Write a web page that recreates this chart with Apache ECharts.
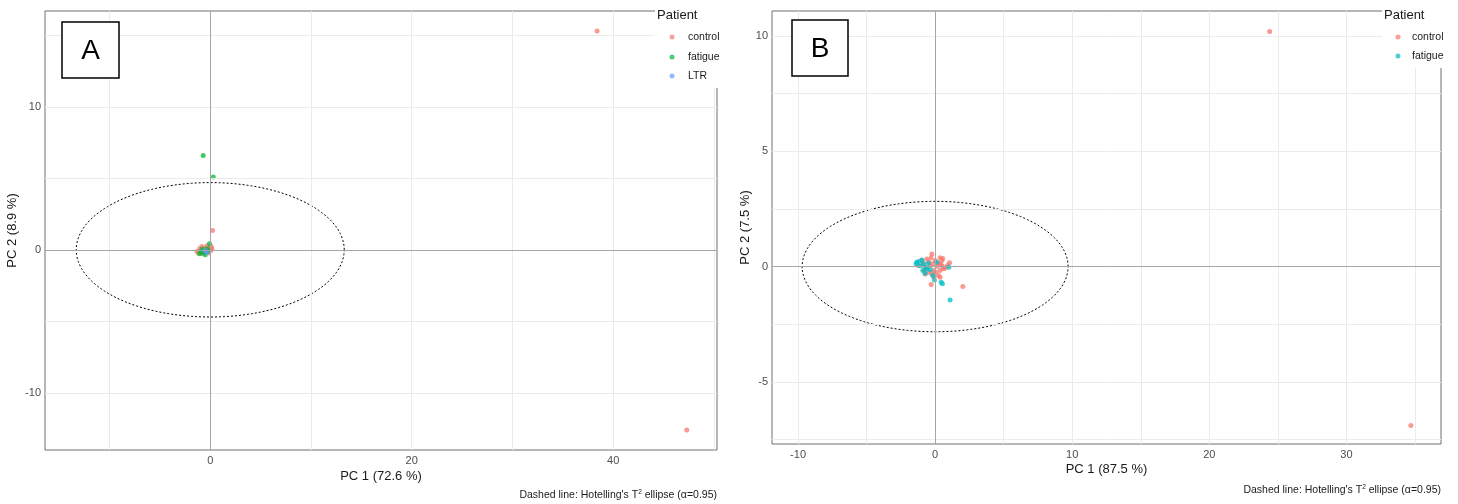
<!DOCTYPE html>
<html>
<head>
<meta charset="utf-8">
<script src="https://cdn.jsdelivr.net/npm/echarts@6/dist/echarts.min.js"></script>
<style>
  html, body { margin: 0; padding: 0; background: #fff; }
  #chart { width: 1458px; height: 504px; }
</style>
</head>
<body>
<div id="chart"></div>
<script>
// ---- Panel A: PCA scores, three patient groups ----
const controlA = [[38.4,15.3],[47.3,-12.6],[0.23,1.35],[-1.16,-0.23],[-0.99,-0.12],[-0.66,0.0],[-0.83,0.23],
  [-0.33,0.28],[-0.07,0.12],[0.17,0.05],[-0.4,-0.12],[-1.32,-0.12],[-0.17,-0.23],[0.1,0.23],[-0.55,0.1],
  [-0.9,-0.25],[-0.25,0.02],[0.05,-0.05],[-1.05,0.08],[-0.7,-0.2]];
const fatigueA = [[-0.7,6.6],[0.3,5.1],[-0.07,0.42],[-0.93,-0.12],[-0.66,-0.23],[-0.5,-0.35],[-1.06,-0.28],
  [-0.3,0.07],[-0.8,0.05],[-0.2,-0.1]];
const ltrA = [[-0.33,-0.19],[-0.5,-0.05]];

// ---- Panel B: PCA scores, two patient groups ----
const controlB = [[24.4,10.2],[34.7,-6.9],[-0.24,0.55],[0.36,0.38],[0.49,0.26],[1.05,0.17],[-0.61,0.33],
  [-0.85,0.12],[-0.36,0.04],[0.12,0.0],[0.49,0.04],[-0.12,-0.17],[0.36,-0.17],[-0.49,-0.25],[-0.24,-0.32],
  [0.24,-0.39],[-0.73,-0.32],[-0.29,-0.78],[2.02,-0.87],[-0.97,0.26],[0.61,-0.1],[0.0,0.26],[-1.22,0.04],
  [0.36,-0.46],[-0.61,-0.04],[0.2,0.15],[-0.45,0.2],[0.55,0.35],[-0.1,-0.45],[0.75,-0.05],[-0.3,0.38],
  [0.05,-0.25],[-0.8,-0.15],[0.4,0.1],[-0.15,0.12],[0.9,0.05]];
const fatigueB = [[-1.34,0.19],[-1.39,0.12],[-0.97,0.29],[-1.09,0.04],[-0.85,0.12],[-0.73,-0.03],[-0.9,-0.17],
  [-0.73,-0.29],[-0.36,-0.14],[-0.17,-0.39],[-0.05,-0.58],[0.44,-0.68],[0.53,-0.75],[1.0,-0.03],[1.09,-1.45],
  [0.12,0.19],[-0.49,0.14],[-1.2,0.22],[-0.6,-0.1]];

// Hotelling's T2 ellipse semi-axes (PC1, PC2) per panel
const ellipseA = { rx: 13.3, ry: 4.7 };
const ellipseB = { rx: 9.7, ry: 2.83 };

// Axis ranges, tick labels and grid lines
const xRangeA = [-16.4, 50.3], yRangeA = [-14.0, 16.7];
const xTicksA = [0, 20, 40], yTicksA = [-10, 0, 10];
const xGridA = [-10, 10, 20, 30, 40, 50], yGridA = [-10, -5, 5, 10, 15];
const xRangeB = [-11.9, 36.9], yRangeB = [-7.7, 11.09];
const xTicksB = [-10, 0, 10, 20, 30], yTicksB = [-5, 0, 5, 10];
const xGridB = [-10, -5, 5, 10, 15, 20, 25, 30, 35], yGridB = [-7.5, -5, -2.5, 2.5, 5, 7.5, 10];

const colControl = '#F8766D', colFatigue3 = '#00BA38', colLTR = '#619CFF', colFatigue2 = '#00BFC4';
const legendA = [['control', colControl], ['fatigue', colFatigue3], ['LTR', colLTR]];
const legendB = [['control', colControl], ['fatigue', colFatigue2]];

const FONT = '"Liberation Sans", Arial, sans-serif';

function ellipsePoints(e) {
  const pts = [];
  for (let i = 0; i <= 180; i++) {
    const t = (i / 180) * 2 * Math.PI;
    pts.push([e.rx * Math.cos(t), e.ry * Math.sin(t)]);
  }
  return pts;
}

function xAxisOf(gi, range, ticks, name, gap) {
  return {
    type: 'value', gridIndex: gi, min: range[0], max: range[1],
    name: name, nameLocation: 'middle', nameGap: gap, nameMoveOverlap: false,
    nameTextStyle: { color: '#1a1a1a', fontSize: 13, fontFamily: FONT },
    axisLine: { show: false },
    axisTick: { show: true, customValues: ticks, length: 3, lineStyle: { color: '#555' } },
    axisLabel: { customValues: ticks, color: '#4d4d4d', fontSize: 11, fontFamily: FONT, margin: 5 },
    splitLine: { show: false }
  };
}
function yAxisOf(gi, range, ticks, name, gap) {
  return {
    type: 'value', gridIndex: gi, min: range[0], max: range[1],
    name: name, nameLocation: 'middle', nameGap: gap, nameMoveOverlap: false,
    nameTextStyle: { color: '#1a1a1a', fontSize: 13, fontFamily: FONT },
    axisLine: { show: false },
    axisTick: { show: true, customValues: ticks, length: 3, lineStyle: { color: '#555' } },
    axisLabel: { customValues: ticks, color: '#4d4d4d', fontSize: 11, fontFamily: FONT, margin: 4 },
    splitLine: { show: false }
  };
}

function gridLines(gi, xs, ys) {
  const data = xs.map(v => ({ xAxis: v })).concat(ys.map(v => ({ yAxis: v })));
  return [
    { type: 'scatter', xAxisIndex: gi, yAxisIndex: gi, data: [], silent: true, z: 1,
      markLine: { silent: true, symbol: 'none', label: { show: false }, animation: false,
        lineStyle: { color: '#ebebeb', width: 1, type: 'solid' }, data: data } },
    { type: 'scatter', xAxisIndex: gi, yAxisIndex: gi, data: [], silent: true, z: 1,
      markLine: { silent: true, symbol: 'none', label: { show: false }, animation: false,
        lineStyle: { color: '#a6a6a6', width: 1, type: 'solid' },
        data: [{ xAxis: 0 }, { yAxis: 0 }] } }
  ];
}

function pts(gi, name, data, color) {
  return { type: 'scatter', name: name, xAxisIndex: gi, yAxisIndex: gi, data: data, z: 3,
    symbolSize: 5, itemStyle: { color: color, opacity: 0.75 }, animation: false };
}
function ell(gi, e) {
  return { type: 'line', xAxisIndex: gi, yAxisIndex: gi, data: ellipsePoints(e), showSymbol: false,
    smooth: false, z: 2, animation: false, silent: true,
    lineStyle: { color: '#000', width: 1, type: [2, 2] } };
}

function legendGraphics(x, titleY, items, dotX, textX, ys) {
  const g = [{ type: 'rect', shape: { x: x - 2, y: 0, width: 90, height: ys[ys.length - 1] + 12 },
    style: { fill: '#fff' }, z: 50 },
    { type: 'text', x: x, y: titleY, z: 51,
      style: { text: 'Patient', fill: '#1a1a1a', font: '13px ' + FONT, textVerticalAlign: 'middle' } }];
  items.forEach((it, i) => {
    g.push({ type: 'circle', shape: { cx: dotX, cy: ys[i], r: 2.5 }, style: { fill: it[1], opacity: 0.7 }, z: 51 });
    g.push({ type: 'text', x: textX, y: ys[i], z: 51,
      style: { text: it[0], fill: '#1a1a1a', font: '10.5px ' + FONT, textVerticalAlign: 'middle' } });
  });
  return g;
}
function letterBox(x, y, w, h, letter) {
  return [{ type: 'rect', shape: { x: x, y: y, width: w, height: h }, z: 52,
    style: { fill: '#fff', stroke: '#000', lineWidth: 1.5 } },
    { type: 'text', x: x + w / 2, y: y + h / 2 + 1, z: 53,
      style: { text: letter, fill: '#000', font: '28px ' + FONT, textAlign: 'center', textVerticalAlign: 'middle' } }];
}
function caption(x, y) {
  return { type: 'text', x: x, y: y, z: 51,
    style: { rich: { n: { fontSize: 10.5, fontFamily: FONT, fill: '#1a1a1a' },
                     s: { fontSize: 6.5, fontFamily: FONT, fill: '#1a1a1a', verticalAlign: 'top', padding: [0, 0, 5, 0] } },
      text: "{n|Dashed line: Hotelling's T}{s|2}{n| ellipse (α=0.95)}",
      textAlign: 'right', textVerticalAlign: 'middle' } };
}

const chart = echarts.init(document.getElementById('chart'), null, { renderer: 'canvas' });
chart.setOption({
  backgroundColor: '#fff',
  animation: false,
  grid: [
    { left: 45, top: 11, width: 672, height: 439, show: true, borderColor: '#6e6e6e', borderWidth: 1, backgroundColor: 'transparent' },
    { left: 772, top: 11, width: 669, height: 433, show: true, borderColor: '#6e6e6e', borderWidth: 1, backgroundColor: 'transparent' }
  ],
  xAxis: [xAxisOf(0, xRangeA, xTicksA, 'PC 1 (72.6 %)', 20), xAxisOf(1, xRangeB, xTicksB, 'PC 1 (87.5 %)', 19)],
  yAxis: [yAxisOf(0, yRangeA, yTicksA, 'PC 2 (8.9 %)', 26), yAxisOf(1, yRangeB, yTicksB, 'PC 2 (7.5 %)', 20)],
  series: [].concat(
    gridLines(0, xGridA, yGridA),
    gridLines(1, xGridB, yGridB),
    [ell(0, ellipseA), ell(1, ellipseB),
     pts(0, 'control', controlA, colControl), pts(0, 'fatigue', fatigueA, colFatigue3), pts(0, 'LTR', ltrA, colLTR),
     pts(1, 'control', controlB, colControl), pts(1, 'fatigue', fatigueB, colFatigue2)]
  ),
  graphic: { elements: [].concat(
    legendGraphics(657, 15, legendA, 672, 688, [37, 57, 76]),
    legendGraphics(1384, 15, legendB, 1398, 1412, [37, 56]),
    letterBox(62, 22, 57, 56, 'A'),
    letterBox(792, 20, 56, 56, 'B'),
    [caption(717, 495), caption(1441, 490)]
  ) }
});
</script>
</body>
</html>
